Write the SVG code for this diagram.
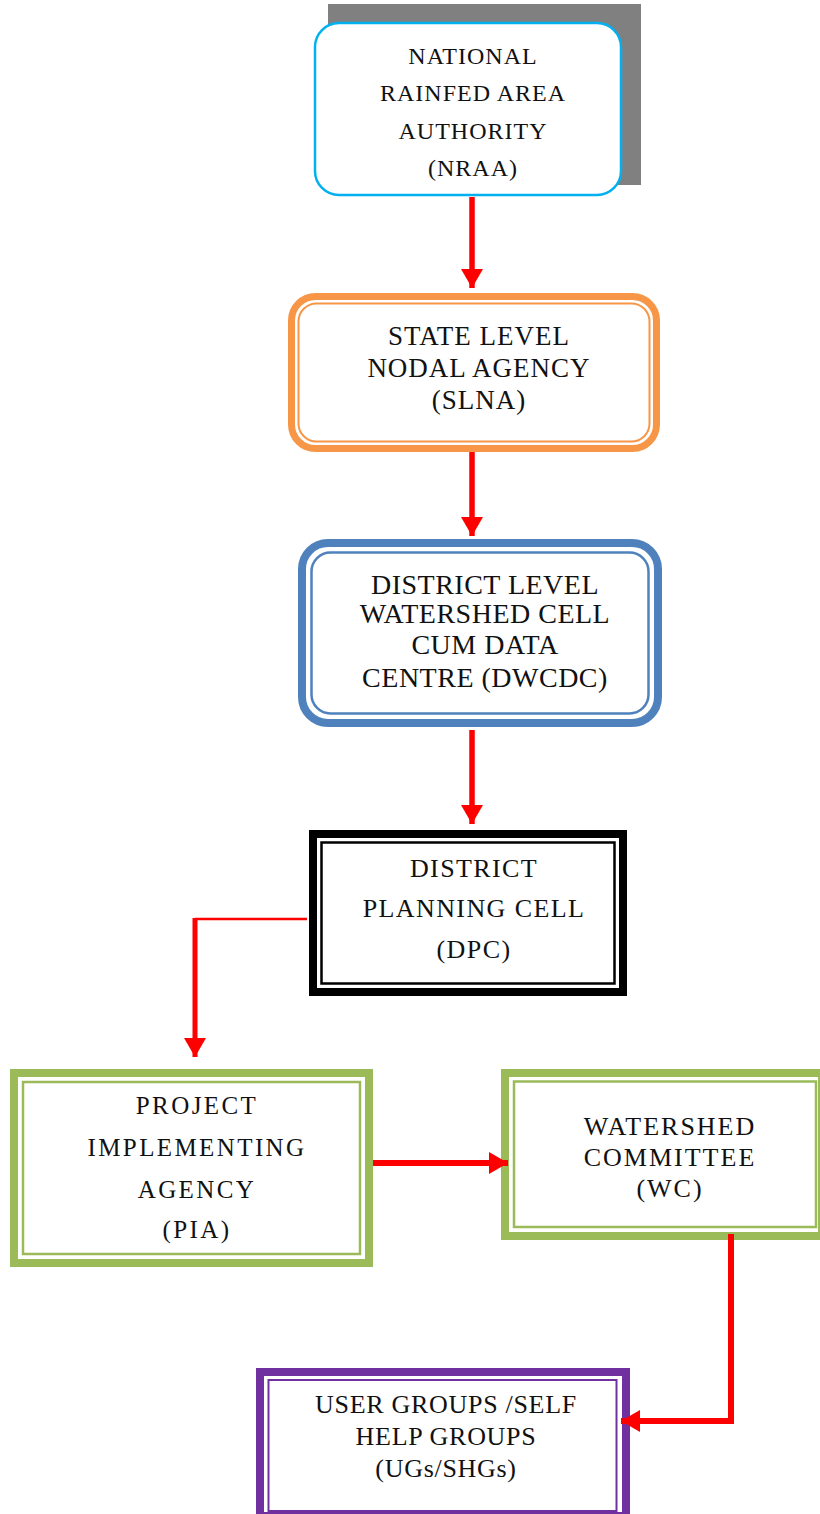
<svg xmlns="http://www.w3.org/2000/svg" width="820" height="1514" viewBox="0 0 820 1514">
<defs>
<marker id="ah" markerUnits="userSpaceOnUse" markerWidth="20" markerHeight="24" refX="19" refY="11" orient="auto" viewBox="0 0 20 22">
<path d="M0,0 L19,11 L0,22 z" fill="#FF0000"/>
</marker>
</defs>
<style>
text{font-family:"Liberation Serif","Times New Roman",serif;fill:#111;text-anchor:middle}
.box{fill:#fff}
.in{fill:none}
.con{fill:none;stroke:#FF0000;stroke-linejoin:miter}
</style>
<rect width="820" height="1514" fill="#fff"/>

<g id="nraa">
<rect x="328" y="4" width="313" height="181" fill="#808080"/>
<rect class="box" x="315" y="23" width="306" height="172" rx="24" stroke="#00B0F0" stroke-width="2.5"/>
<text font-size="24" letter-spacing="1"><tspan x="473" y="64">NATIONAL</tspan><tspan x="473" y="101">RAINFED AREA</tspan><tspan x="473" y="139">AUTHORITY</tspan><tspan x="473" y="176">(NRAA)</tspan></text>
</g>

<g id="slna">
<rect class="box" x="291.5" y="296.5" width="365" height="152" rx="24" stroke="#F79646" stroke-width="7"/>
<rect class="in" x="298.5" y="303.5" width="351" height="138" rx="18" stroke="#F79646" stroke-width="2"/>
<text font-size="27" letter-spacing="1"><tspan x="479" y="345">STATE LEVEL</tspan><tspan x="479" y="377">NODAL AGENCY</tspan><tspan x="479" y="409">(SLNA)</tspan></text>
</g>

<g id="dwcdc">
<rect class="box" x="302" y="543" width="356" height="180" rx="26" stroke="#4F81BD" stroke-width="8"/>
<rect class="in" x="311.5" y="552.5" width="337" height="161" rx="19" stroke="#4F81BD" stroke-width="2.5"/>
<text font-size="28" letter-spacing="0.5"><tspan x="485" y="594">DISTRICT LEVEL</tspan><tspan x="485" y="623">WATERSHED CELL</tspan><tspan x="485" y="654">CUM DATA</tspan><tspan x="485" y="687">CENTRE (DWCDC)</tspan></text>
</g>

<g id="dpc">
<rect class="box" x="313" y="834" width="310" height="158" stroke="#000" stroke-width="8"/>
<rect class="in" x="321.5" y="842.5" width="293" height="141" stroke="#000" stroke-width="2.5"/>
<text font-size="26" letter-spacing="1.4"><tspan x="474" y="877">DISTRICT</tspan><tspan x="474" y="917">PLANNING CELL</tspan><tspan x="474" y="958">(DPC)</tspan></text>
</g>

<g id="pia">
<rect class="box" x="14" y="1073" width="355" height="190" stroke="#9BBB59" stroke-width="8"/>
<rect class="in" x="23" y="1082" width="337" height="172" stroke="#9BBB59" stroke-width="2.5"/>
<text font-size="25" letter-spacing="2.4"><tspan x="197" y="1114">PROJECT</tspan><tspan x="197" y="1156">IMPLEMENTING</tspan><tspan x="197" y="1198">AGENCY</tspan><tspan x="197" y="1238">(PIA)</tspan></text>
</g>

<g id="wc">
<rect class="box" x="505" y="1073" width="317" height="163" stroke="#9BBB59" stroke-width="8"/>
<rect class="in" x="514" y="1081.5" width="302" height="145.5" stroke="#9BBB59" stroke-width="2.5"/>
<text font-size="26" letter-spacing="2"><tspan x="670" y="1135">WATERSHED</tspan><tspan x="670" y="1166">COMMITTEE</tspan><tspan x="670" y="1197">(WC)</tspan></text>
</g>

<g id="ug">
<rect class="box" x="260" y="1372" width="366" height="144" stroke="#7030A0" stroke-width="8"/>
<rect class="in" x="268.5" y="1380" width="348" height="131" stroke="#7030A0" stroke-width="2"/>
<text font-size="26" letter-spacing="0.7"><tspan x="446" y="1413">USER GROUPS /SELF</tspan><tspan x="446" y="1445">HELP GROUPS</tspan><tspan x="446" y="1477">(UGs/SHGs)</tspan></text>
</g>

<g id="connectors">
<path class="con" d="M472,197 L472,288" stroke-width="5.5" marker-end="url(#ah)"/>
<path class="con" d="M472,452 L472,536" stroke-width="5.5" marker-end="url(#ah)"/>
<path class="con" d="M472,730 L472,824" stroke-width="5.5" marker-end="url(#ah)"/>
<path class="con" d="M307,919 L195,919" stroke-width="2.5"/>
<path class="con" d="M195,918 L195,1057" stroke-width="5" marker-end="url(#ah)"/>
<path class="con" d="M373,1163 L508,1163" stroke-width="6" marker-end="url(#ah)"/>
<path class="con" d="M731,1234 L731,1421 L621,1421" stroke-width="6" marker-end="url(#ah)"/>
</g>
</svg>
